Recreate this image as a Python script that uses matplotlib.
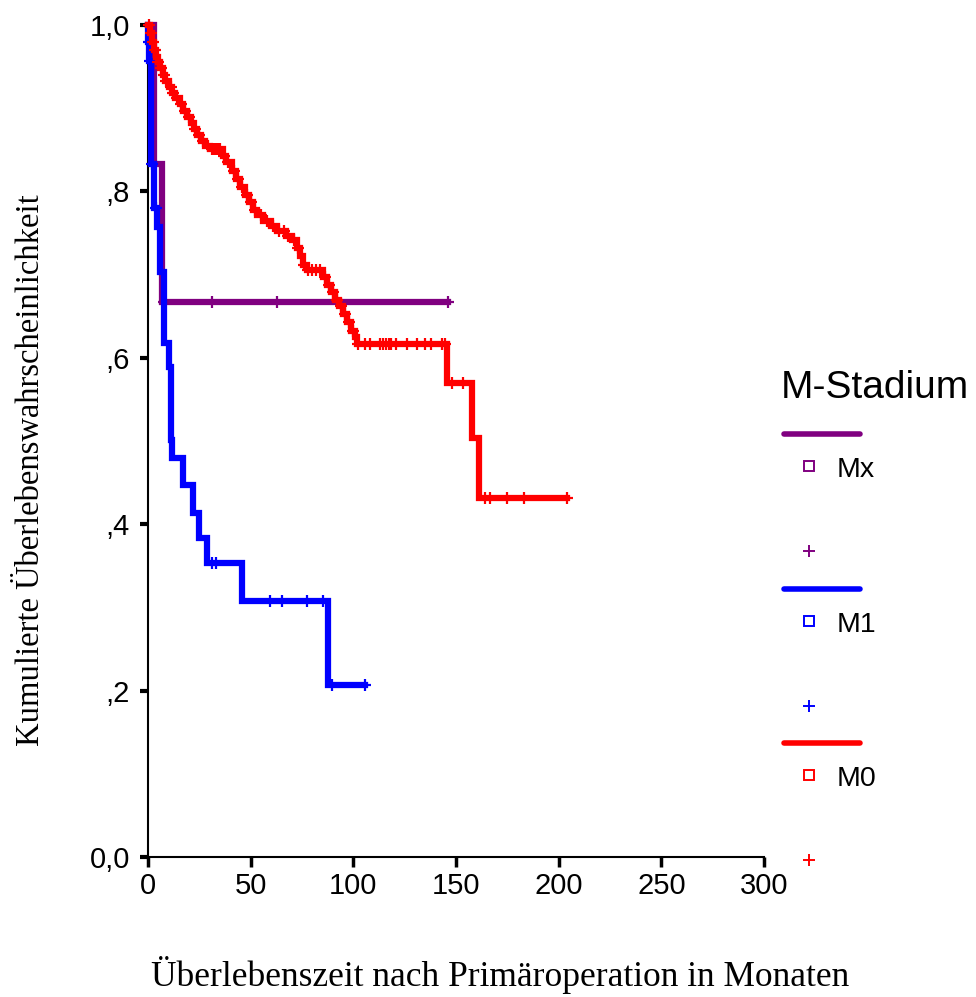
import matplotlib
matplotlib.use("Agg")
import matplotlib.pyplot as plt
import numpy as np

# ---------------- data ----------------
# M0 (red): event times and survival after each event
m0_times = [0, 1, 2, 3, 4, 5, 6, 7.3, 8.5, 10, 11.5, 13, 15.6, 17, 19, 21, 22.5, 24, 26, 28,
            30, 36.5, 38, 41, 43, 45, 47, 49, 51, 53, 56, 60, 63, 67, 70, 72.5, 74, 75.5,
            77.5, 85, 87, 89, 91, 93, 95, 97, 99, 101, 102, 145.6, 158, 161.2]
m0_surv = [1.0, 0.99, 0.98, 0.97, 0.962, 0.955, 0.948, 0.94, 0.933, 0.925, 0.918, 0.912,
           0.905, 0.897, 0.89, 0.882, 0.875, 0.868, 0.86, 0.855, 0.851, 0.843, 0.835, 0.825,
           0.815, 0.805, 0.796, 0.787, 0.778, 0.772, 0.765, 0.758, 0.752, 0.746, 0.741,
           0.732, 0.722, 0.712, 0.705, 0.697, 0.688, 0.679, 0.670, 0.662, 0.653, 0.643,
           0.632, 0.625, 0.616, 0.570, 0.504, 0.432]
m0_censor = [0.5, 1.5, 2.5, 3.5, 5, 6.5, 8, 9, 11, 12, 14, 16, 18, 20, 23, 25, 27, 29, 31, 32,
             33, 34, 35, 37, 39, 42, 44, 46, 48, 50, 52, 55, 58, 61, 64, 66, 68, 71, 73, 76,
             78, 80, 82, 84, 86, 88, 90, 92, 94, 96, 98, 100, 102.5, 105.7, 108, 113, 114.5,
             116, 117.5, 118.5, 121, 126, 131, 135, 138, 143, 144.7, 148, 153.5, 164, 166.5,
             175, 183, 204]

# M1 (blue)
m1_times = [0, 0.2, 0.6, 1.5, 3.0, 4.5, 6.0, 8.0, 10.0, 11.0, 11.7, 17, 22, 25, 28.7, 45.8, 87.7]
m1_surv = [1.0, 0.98, 0.957, 0.833, 0.78, 0.757, 0.703, 0.618, 0.589, 0.501, 0.479, 0.447,
           0.414, 0.383, 0.353, 0.308, 0.2065]
m1_censor = [0.4, 1.0, 2.0, 4.0, 31, 33, 59.4, 65.3, 77.4, 85.2, 89.7, 105.7]

# Mx (purple)
mx_times = [0, 3.0, 7.0]
mx_surv = [1.0, 0.833, 0.667]
mx_censor = [7.6, 31, 63, 146]

groups = ["Mx", "M1", "M0"]
colors = {"Mx": "#800080", "M1": "#0000FF", "M0": "#FF0000"}
legend_title = "M-Stadium"

x_ticks = [0, 50, 100, 150, 200, 250, 300]
y_ticks = [0.0, 0.2, 0.4, 0.6, 0.8, 1.0]
y_ticklabels = ["0,0", ",2", ",4", ",6", ",8", "1,0"]
x_label = "Überlebenszeit nach Primäroperation in Monaten"
y_label = "Kumulierte Überlebenswahrscheinlichkeit"

series = {
    "Mx": (mx_times, mx_surv, mx_censor),
    "M1": (m1_times, m1_surv, m1_censor),
    "M0": (m0_times, m0_surv, m0_censor),
}

# ---------------- figure ----------------
W, H = 976, 997
fig = plt.figure(figsize=(W / 100, H / 100), dpi=100)
ax = fig.add_axes([148 / W, (H - 857) / H, (764 - 148) / W, (857 - 25) / H])

zorders = {"Mx": 2, "M1": 3, "M0": 4}
for g in groups:
    t, s, c = series[g]
    t_end = max(max(c), t[-1])
    tt = list(t) + [t_end]
    ss = list(s) + [s[-1]]
    ax.step(tt, ss, where="post", color=colors[g], lw=4.5, solid_joinstyle="miter",
            zorder=zorders[g], clip_on=False)
    idx = np.searchsorted(np.asarray(t), np.asarray(c), side="right") - 1
    cy = np.asarray(s)[idx]
    ax.plot(c, cy, linestyle="none", marker="+", ms=9, mew=1.6, color=colors[g],
            zorder=zorders[g] + 0.5, clip_on=False)

ax.set_xlim(0, 300)
ax.set_ylim(0, 1)
ax.set_xticks(x_ticks)
ax.set_xticklabels([str(v) for v in x_ticks])
ax.set_yticks(y_ticks)
ax.set_yticklabels(y_ticklabels)
for sp in ["top", "right"]:
    ax.spines[sp].set_visible(False)
for sp in ["left", "bottom"]:
    ax.spines[sp].set_linewidth(1.5)
    ax.spines[sp].set_color("black")
ax.tick_params(axis="y", direction="out", length=6, width=3, pad=7,
               labelsize=21, labelfontfamily="Liberation Sans")
ax.tick_params(axis="x", direction="out", length=7, width=2.5, pad=4,
               labelsize=21, labelfontfamily="Liberation Sans")

fig.text(500 / W, 1 - 975 / H, x_label, ha="center", va="center",
         fontsize=25.5, family="Liberation Serif")
fig.text(31 / W, 1 - 470 / H, y_label, ha="center", va="center", rotation=90,
         fontsize=23.5, family="Liberation Serif")

# ---------------- legend (manual) ----------------
lax = fig.add_axes([0, 0, 1, 1])
lax.set_xlim(0, W)
lax.set_ylim(H, 0)
lax.axis("off")
lax.text(781, 388, legend_title, ha="left", va="center", fontsize=28,
         family="Liberation Sans")
for i, g in enumerate(groups):
    y0 = 434 + i * 154.5
    lax.plot([784, 860], [y0, y0], color=colors[g], lw=4, solid_capstyle="round")
    lax.plot([809], [y0 + 32], marker="s", ms=6.5, mfc="none", mec=colors[g], mew=1.4,
             linestyle="none")
    lax.text(837, y0 + 36, g, ha="left", va="center", fontsize=20.5, family="Liberation Sans")
    lax.plot([809], [y0 + 117], marker="+", ms=9, mew=1.4, color=colors[g],
             linestyle="none")

fig.savefig("out.png", dpi=100)
